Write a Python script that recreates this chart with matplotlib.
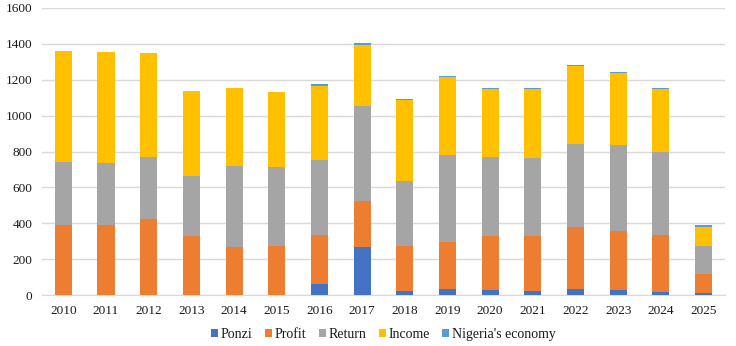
import matplotlib
matplotlib.use("Agg")
import matplotlib.pyplot as plt
import numpy as np

years = [str(y) for y in range(2010, 2026)]
ponzi = [0, 0, 0, 0, 0, 0, 61, 268, 22, 33, 28, 22, 33, 28, 17, 11]
profit = [391, 391, 424, 331, 268, 275, 274, 257, 253, 265, 303, 309, 347, 329, 318, 108]
ret = [351, 346, 346, 335, 454, 439, 418, 530, 361, 483, 439, 434, 463, 480, 463, 154]
income = [620, 619, 577, 469, 433, 419, 410, 340, 449, 436, 380, 385, 435, 398, 352, 107]
economy = [0, 0, 0, 5, 0, 0, 15, 12, 9, 5, 5, 5, 6, 6, 5, 11]

series = [("Ponzi", ponzi, "#4472C4"),
          ("Profit", profit, "#ED7D31"),
          ("Return", ret, "#A5A5A5"),
          ("Income", income, "#FFC000"),
          ("Nigeria's economy", economy, "#5B9BD5")]

plt.rcParams["font.family"] = ["Liberation Serif", "DejaVu Serif"]

fig = plt.figure(figsize=(7.36, 3.46), dpi=100)
ax = fig.add_axes([0.057, 0.147, 0.928, 0.83])

x = np.arange(len(years))
bottom = np.zeros(len(years))
for name, vals, col in series:
    ax.bar(x, vals, 0.4, bottom=bottom, color=col, label=name, zorder=3)
    bottom += np.array(vals)

ax.set_xlim(-0.5, len(years) - 0.5)
ax.set_ylim(0, 1600)
ax.set_yticks(range(0, 1601, 200))
ax.set_xticks(x)
ax.set_xticklabels(years)
ax.yaxis.grid(True, color="#D9D9D9", lw=1, zorder=0)
for s in ["top", "right", "left"]:
    ax.spines[s].set_visible(False)
ax.spines["bottom"].set_color("#D9D9D9")
ax.tick_params(length=0, labelsize=9.5, colors="#1a1a1a", pad=7)

ax.legend(loc="upper center", bbox_to_anchor=(0.5, -0.07), ncol=5, frameon=False,
          fontsize=10, handlelength=0.5, handleheight=0.5, handletextpad=0.2,
          columnspacing=0.9, labelcolor="#1a1a1a")

fig.savefig("out.png", dpi=100)
